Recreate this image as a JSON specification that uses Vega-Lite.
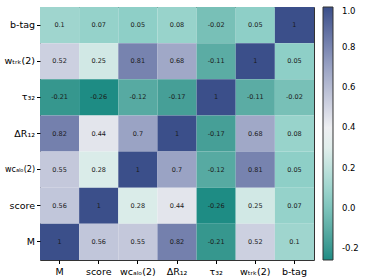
{
  "$schema": "https://vega.github.io/schema/vega-lite/v6.json",
  "autosize": {"type": "none"},
  "padding": {"left": 40, "top": 7, "right": 60, "bottom": 20},
  "width": 274,
  "height": 253,
  "config": {
    "font": "DejaVu Sans",
    "locale": {"number": {"decimal": ".", "thousands": ",", "grouping": [3], "currency": ["$", ""], "minus": "-"}},
    "view": {"stroke": "#333333", "strokeWidth": 1},
    "axis": {"domain": false, "grid": false, "labelColor": "#000000", "labelFontSize": 9.5, "tickColor": "#000000", "tickSize": 3.5, "title": null, "labelPadding": 3}
  },
  "data": {
    "values": [
      {"x": "M", "y": "b-tag", "v": 0.1},
      {"x": "score", "y": "b-tag", "v": 0.07},
      {"x": "wcₐₗₒ(2)", "y": "b-tag", "v": 0.05},
      {"x": "ΔR₁₂", "y": "b-tag", "v": 0.08},
      {"x": "τ₃₂", "y": "b-tag", "v": -0.02},
      {"x": "wₜᵣₖ(2)", "y": "b-tag", "v": 0.05},
      {"x": "b-tag", "y": "b-tag", "v": 1},
      {"x": "M", "y": "wₜᵣₖ(2)", "v": 0.52},
      {"x": "score", "y": "wₜᵣₖ(2)", "v": 0.25},
      {"x": "wcₐₗₒ(2)", "y": "wₜᵣₖ(2)", "v": 0.81},
      {"x": "ΔR₁₂", "y": "wₜᵣₖ(2)", "v": 0.68},
      {"x": "τ₃₂", "y": "wₜᵣₖ(2)", "v": -0.11},
      {"x": "wₜᵣₖ(2)", "y": "wₜᵣₖ(2)", "v": 1},
      {"x": "b-tag", "y": "wₜᵣₖ(2)", "v": 0.05},
      {"x": "M", "y": "τ₃₂", "v": -0.21},
      {"x": "score", "y": "τ₃₂", "v": -0.26},
      {"x": "wcₐₗₒ(2)", "y": "τ₃₂", "v": -0.12},
      {"x": "ΔR₁₂", "y": "τ₃₂", "v": -0.17},
      {"x": "τ₃₂", "y": "τ₃₂", "v": 1},
      {"x": "wₜᵣₖ(2)", "y": "τ₃₂", "v": -0.11},
      {"x": "b-tag", "y": "τ₃₂", "v": -0.02},
      {"x": "M", "y": "ΔR₁₂", "v": 0.82},
      {"x": "score", "y": "ΔR₁₂", "v": 0.44},
      {"x": "wcₐₗₒ(2)", "y": "ΔR₁₂", "v": 0.7},
      {"x": "ΔR₁₂", "y": "ΔR₁₂", "v": 1},
      {"x": "τ₃₂", "y": "ΔR₁₂", "v": -0.17},
      {"x": "wₜᵣₖ(2)", "y": "ΔR₁₂", "v": 0.68},
      {"x": "b-tag", "y": "ΔR₁₂", "v": 0.08},
      {"x": "M", "y": "wcₐₗₒ(2)", "v": 0.55},
      {"x": "score", "y": "wcₐₗₒ(2)", "v": 0.28},
      {"x": "wcₐₗₒ(2)", "y": "wcₐₗₒ(2)", "v": 1},
      {"x": "ΔR₁₂", "y": "wcₐₗₒ(2)", "v": 0.7},
      {"x": "τ₃₂", "y": "wcₐₗₒ(2)", "v": -0.12},
      {"x": "wₜᵣₖ(2)", "y": "wcₐₗₒ(2)", "v": 0.81},
      {"x": "b-tag", "y": "wcₐₗₒ(2)", "v": 0.05},
      {"x": "M", "y": "score", "v": 0.56},
      {"x": "score", "y": "score", "v": 1},
      {"x": "wcₐₗₒ(2)", "y": "score", "v": 0.28},
      {"x": "ΔR₁₂", "y": "score", "v": 0.44},
      {"x": "τ₃₂", "y": "score", "v": -0.26},
      {"x": "wₜᵣₖ(2)", "y": "score", "v": 0.25},
      {"x": "b-tag", "y": "score", "v": 0.07},
      {"x": "M", "y": "M", "v": 1},
      {"x": "score", "y": "M", "v": 0.56},
      {"x": "wcₐₗₒ(2)", "y": "M", "v": 0.55},
      {"x": "ΔR₁₂", "y": "M", "v": 0.82},
      {"x": "τ₃₂", "y": "M", "v": -0.21},
      {"x": "wₜᵣₖ(2)", "y": "M", "v": 0.52},
      {"x": "b-tag", "y": "M", "v": 0.1}
    ]
  },
  "encoding": {
    "x": {"field": "x", "type": "nominal", "sort": ["M", "score", "wcₐₗₒ(2)", "ΔR₁₂", "τ₃₂", "wₜᵣₖ(2)", "b-tag"], "axis": {"labelAngle": 0}, "scale": {"paddingInner": 0, "paddingOuter": 0}},
    "y": {"field": "y", "type": "nominal", "sort": ["b-tag", "wₜᵣₖ(2)", "τ₃₂", "ΔR₁₂", "wcₐₗₒ(2)", "score", "M"], "scale": {"paddingInner": 0, "paddingOuter": 0},
      "axis": {"labelPadding": 2, "labelFontSize": {"condition": {"test": "datum.value === 'wcₐₗₒ(2)'", "value": 8}, "value": 9.5}}}
  },
  "layer": [
    {
      "mark": {"type": "rect"},
      "encoding": {
        "color": {
          "field": "v", "type": "quantitative",
          "scale": {"domain": [-0.26, 0.05, 0.37, 0.7, 1], "range": ["#1e8c84", "#8ecfc7", "#f7f7f7", "#9aa3c4", "#3b4f8a"]},
          "legend": {
            "title": null, "orient": "none", "legendX": 283, "legendY": 0,
            "direction": "vertical", "gradientLength": 253, "gradientThickness": 10,
            "gradientStrokeColor": "#333333", "gradientStrokeWidth": 1,
            "values": [-0.2, 0, 0.2, 0.4, 0.6, 0.8, 1],
            "labelFontSize": 8.5, "labelColor": "#000000", "labelOffset": 9
          }
        }
      }
    },
    {
      "mark": {"type": "text", "fontSize": 6.5, "color": "#1a1a1a"},
      "encoding": {"text": {"field": "v", "type": "quantitative"}}
    }
  ]
}
